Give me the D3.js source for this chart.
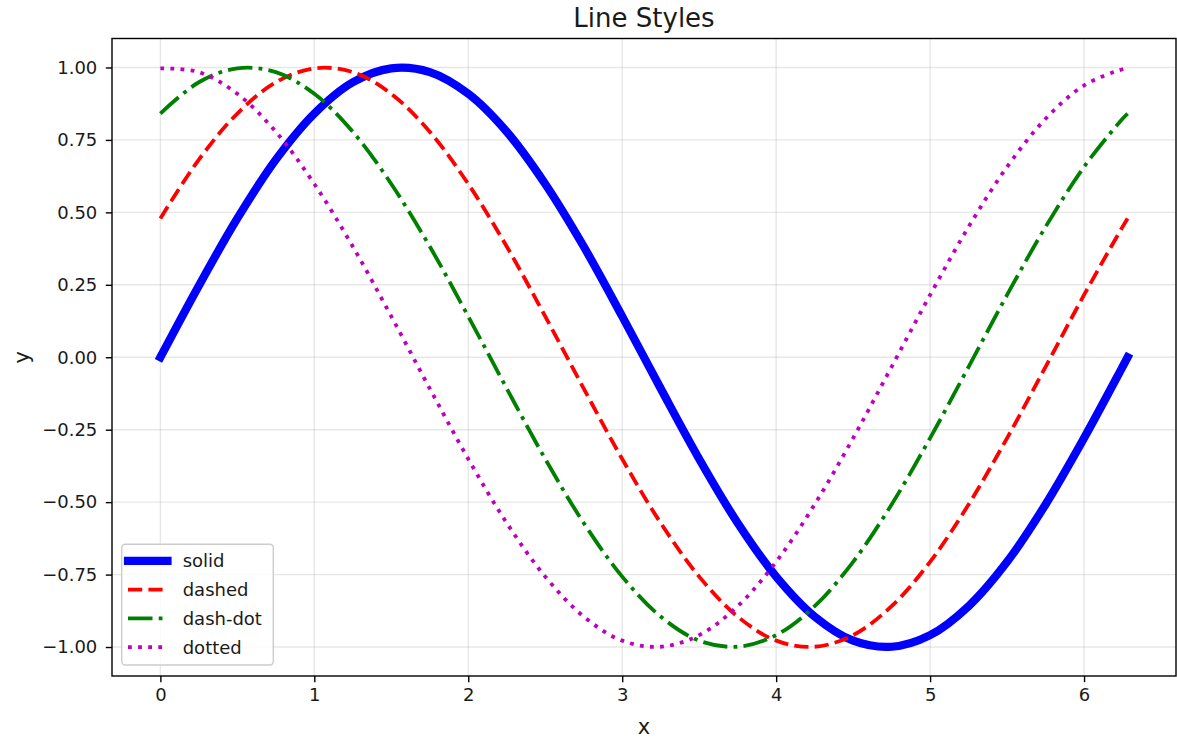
<!DOCTYPE html>
<html>
<head>
<meta charset="utf-8">
<script src="https://cdn.jsdelivr.net/npm/d3@7"></script>
<style>
  html, body { margin: 0; padding: 0; background: #fff; }
  svg { display: block; font-family: "DejaVu Sans", sans-serif; }
</style>
</head>
<body>
<svg id="chart" width="1177" height="738"></svg>
<script>
// Sample positions along x (0 .. 2π)
const xs = [0, 0.25, 0.5, 0.75, 1.0, 1.25, 1.5, 1.75, 2.0, 2.25, 2.5, 2.75, 3.0,
            3.25, 3.5, 3.75, 4.0, 4.25, 4.5, 4.75, 5.0, 5.25, 5.5, 5.75, 6.0, 6.25, 6.283];

const solidY = [0.000, 0.247, 0.479, 0.682, 0.841, 0.949, 0.997, 0.984, 0.909, 0.778, 0.598, 0.382, 0.141,
                -0.108, -0.351, -0.572, -0.757, -0.895, -0.978, -0.999, -0.959, -0.859, -0.706, -0.508, -0.279, -0.033, 0.000];
const dashedY = [0.479, 0.682, 0.841, 0.949, 0.997, 0.984, 0.909, 0.778, 0.598, 0.382, 0.141, -0.108, -0.351,
                 -0.572, -0.757, -0.895, -0.978, -0.999, -0.959, -0.859, -0.706, -0.508, -0.279, -0.033, 0.215, 0.450, 0.479];
const dashDotY = [0.841, 0.949, 0.997, 0.984, 0.909, 0.778, 0.598, 0.382, 0.141, -0.108, -0.351, -0.572, -0.757,
                  -0.895, -0.978, -0.999, -0.959, -0.859, -0.706, -0.508, -0.279, -0.033, 0.215, 0.450, 0.657, 0.823, 0.841];
const dottedY = [0.997, 0.984, 0.909, 0.778, 0.598, 0.382, 0.141, -0.108, -0.351, -0.572, -0.757, -0.895, -0.978,
                 -0.999, -0.959, -0.859, -0.706, -0.508, -0.279, -0.033, 0.215, 0.450, 0.657, 0.823, 0.938, 0.994, 0.997];

const seriesNames = ["solid", "dashed", "dash-dot", "dotted"];
const xTicks = [0, 1, 2, 3, 4, 5, 6];
const yTicks = [-1.00, -0.75, -0.50, -0.25, 0.00, 0.25, 0.50, 0.75, 1.00];

// Styles per series
const styles = {
  "solid":    { color: "#0000ff", width: 8.2, dash: null, cap: "square", data: solidY },
  "dashed":   { color: "#ff0000", width: 3.8, dash: "14.2,6.2", cap: "butt", data: dashedY },
  "dash-dot": { color: "#008000", width: 3.8, dash: "24.5,6.2,3.8,6.2", cap: "butt", data: dashDotY },
  "dotted":   { color: "#bf00bf", width: 3.8, dash: "3.8,6.3", cap: "butt", data: dottedY }
};

const svg = d3.select("#chart");
const plot = { left: 112, right: 1176, top: 38.5, bottom: 676 };

const x = d3.scaleLinear().domain([-0.3142, 6.5973]).range([plot.left, plot.right]);
const y = d3.scaleLinear().domain([-1.1, 1.1]).range([plot.bottom, plot.top]);

const tickFont = 18;
const textColor = "#1a1a1a";

// Grid
const grid = svg.append("g").attr("stroke", "#b0b0b0").attr("stroke-opacity", 0.3).attr("stroke-width", 1.4);
grid.selectAll("line.gx").data(xTicks).join("line")
  .attr("x1", d => x(d)).attr("x2", d => x(d))
  .attr("y1", plot.top).attr("y2", plot.bottom);
grid.selectAll("line.gy").data(yTicks).join("line")
  .attr("y1", d => y(d)).attr("y2", d => y(d))
  .attr("x1", plot.left).attr("x2", plot.right);

// Clip for data lines
svg.append("clipPath").attr("id", "plotclip").append("rect")
  .attr("x", plot.left).attr("y", plot.top)
  .attr("width", plot.right - plot.left).attr("height", plot.bottom - plot.top);

const line = d3.line()
  .x((d, i) => x(xs[i]))
  .y(d => y(d))
  .curve(d3.curveCatmullRom.alpha(0.5));

const lines = svg.append("g").attr("clip-path", "url(#plotclip)");
seriesNames.forEach(name => {
  const s = styles[name];
  lines.append("path")
    .attr("d", line(s.data))
    .attr("fill", "none")
    .attr("stroke", s.color)
    .attr("stroke-width", s.width)
    .attr("stroke-linecap", s.cap)
    .attr("stroke-linejoin", "round")
    .attr("stroke-dasharray", s.dash);
});

// Axes
const fmtY = d3.format(".2f");
const xAxis = d3.axisBottom(x).tickValues(xTicks).tickFormat(d3.format("d"))
  .tickSize(6.2).tickPadding(6.5);
const yAxis = d3.axisLeft(y).tickValues(yTicks).tickFormat(fmtY)
  .tickSize(6.2).tickPadding(8.5);

const gx = svg.append("g").attr("transform", `translate(0,${plot.bottom})`).call(xAxis);
const gy = svg.append("g").attr("transform", `translate(${plot.left},0)`).call(yAxis);
[gx, gy].forEach(g => {
  g.select(".domain").remove();
  g.selectAll(".tick line").attr("stroke", "#000").attr("stroke-width", 1.4);
  g.selectAll(".tick text").attr("fill", textColor)
    .attr("font-size", tickFont).attr("font-family", "DejaVu Sans");
});

// Spines
svg.append("rect")
  .attr("x", plot.left).attr("y", plot.top)
  .attr("width", plot.right - plot.left).attr("height", plot.bottom - plot.top)
  .attr("fill", "none").attr("stroke", "#000").attr("stroke-width", 1.4);

// Title and axis labels
svg.append("text").attr("x", (plot.left + plot.right) / 2).attr("y", 27)
  .attr("text-anchor", "middle").attr("font-size", 26).attr("fill", textColor)
  .text("Line Styles");
svg.append("text").attr("x", (plot.left + plot.right) / 2).attr("y", 734)
  .attr("text-anchor", "middle").attr("font-size", 21).attr("fill", textColor)
  .text("x");
svg.append("text")
  .attr("transform", `translate(29,${(plot.top + plot.bottom) / 2}) rotate(-90)`)
  .attr("text-anchor", "middle").attr("font-size", 21).attr("fill", textColor)
  .text("y");

// Legend
const legend = svg.append("g");
legend.append("rect")
  .attr("x", 121.7).attr("y", 544.3).attr("width", 151.6).attr("height", 120.7)
  .attr("rx", 3.5).attr("ry", 3.5)
  .attr("fill", "#fff").attr("fill-opacity", 0.8)
  .attr("stroke", "#cccccc").attr("stroke-width", 1.4);

const rowY = d3.scalePoint().domain(seriesNames).range([560.8, 647.2]);
seriesNames.forEach(name => {
  const s = styles[name];
  const cy = rowY(name);
  legend.append("line")
    .attr("x1", 128).attr("x2", name === "solid" ? 167.5 : 163)
    .attr("y1", cy).attr("y2", cy)
    .attr("stroke", s.color).attr("stroke-width", s.width)
    .attr("stroke-linecap", s.cap)
    .attr("stroke-dasharray", s.dash);
  legend.append("text")
    .attr("x", 182.7).attr("y", cy + tickFont * 0.36)
    .attr("font-size", tickFont).attr("fill", textColor)
    .text(name);
});
</script>
</body>
</html>
